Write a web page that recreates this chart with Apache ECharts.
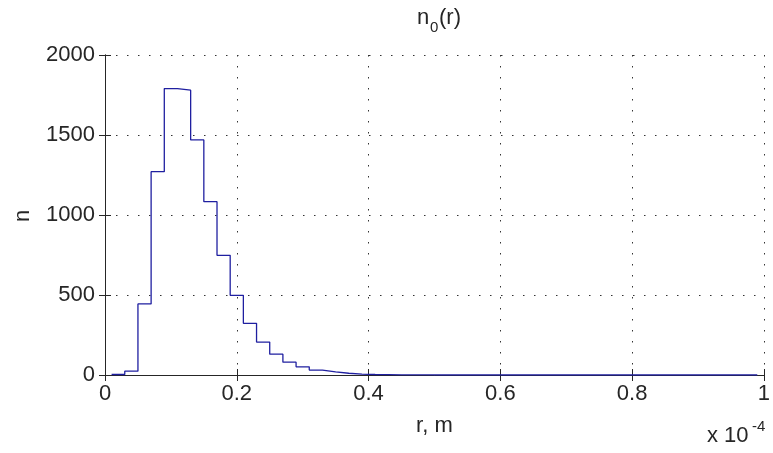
<!DOCTYPE html>
<html>
<head>
<meta charset="utf-8">
<script src="https://cdn.jsdelivr.net/npm/echarts@6/dist/echarts.min.js"></script>
<style>
html,body{margin:0;padding:0;background:#fff;}
#chart{width:773px;height:453px;}
</style>
</head>
<body>
<div id="chart"></div>
<script>
// Bin left edges (r, in units of 1e-4 m) and counts n
var binStart = [0.01,0.03,0.05,0.07,0.09,0.11,0.13,0.15,0.17,0.19,
                0.21,0.23,0.25,0.27,0.29,0.31,0.33,0.35,0.37,0.39,
                0.41,0.43,0.45,0.47,0.49,0.51,0.53,0.55,0.57,0.59,
                0.61,0.63,0.65,0.67,0.69,0.71,0.73,0.75,0.77,0.79,
                0.81,0.83,0.85,0.87,0.89,0.91,0.93,0.95,0.97];
var lastEdge = 0.99;
var counts = [3,24,444,1271,1790,1780,1469,1083,748,498,
              323,206,130,80,51,31,19,11,6,3,
              2,1,1,1,0,0,0,0,0,0,
              0,0,0,0,0,0,0,0,0,0,
              0,0,0,0,0,0,0,0,0];
var xTicks = [0,0.2,0.4,0.6,0.8,1];
var yTicks = [0,500,1000,1500,2000];

var data = binStart.map(function(x,i){return [x,counts[i]];});
data.push([lastEdge, counts[counts.length-1]]);

var FONT = 'Liberation Sans';
var TXT = '#262626';
var FS = 22;
var chart = echarts.init(document.getElementById('chart'));
var axisCommonX = {
  type:'value', min:xTicks[0], max:xTicks[xTicks.length-1], interval:0.2,
  axisLine:{show:true,lineStyle:{color:TXT,width:1}},
  axisTick:{show:true,inside:true,length:6,lineStyle:{color:TXT}}
};
var axisCommonY = {
  type:'value', min:yTicks[0], max:yTicks[yTicks.length-1], interval:500,
  axisLine:{show:true,lineStyle:{color:TXT,width:1}},
  axisTick:{show:true,inside:true,length:6,lineStyle:{color:TXT}}
};
var gridDots = {show:true,lineStyle:{color:'#333',type:[1.5,9.5],width:1}};
chart.setOption({
  animation:false,
  backgroundColor:'#fff',
  grid:{left:105,right:1,top:55,bottom:78,containLabel:false},
  xAxis:[
    Object.assign({}, axisCommonX, {
      position:'bottom',
      name:'r, m', nameLocation:'middle', nameGap:40,
      nameTextStyle:{fontFamily:FONT,fontSize:FS,color:TXT},
      axisLabel:{show:true,margin:8,fontFamily:FONT,fontSize:FS,color:TXT,
        formatter:function(v){return String(Math.round(v*10)/10);}},
      splitLine:gridDots
    }),
    Object.assign({}, axisCommonX, {
      position:'top', axisLabel:{show:false}, splitLine:{show:false}
    })
  ],
  yAxis:[
    Object.assign({}, axisCommonY, {
      position:'left',
      axisLabel:{show:true,margin:10,fontFamily:FONT,fontSize:FS,color:TXT,
        formatter:function(v){return String(v);}},
      splitLine:gridDots
    }),
    Object.assign({}, axisCommonY, {
      position:'right', axisLabel:{show:false}, splitLine:{show:false}
    })
  ],
  series:[{
    type:'line', step:'end', data:data, showSymbol:false, symbol:'none',
    lineStyle:{color:'#1f1fa0',width:1.3}, z:5
  }],
  graphic:[
    {type:'text', left:417, top:7, style:{text:'n',fontFamily:FONT,fontSize:FS,fill:TXT}},
    {type:'text', left:430, top:20, style:{text:'0',fontFamily:FONT,fontSize:15,fill:TXT}},
    {type:'text', left:439, top:7, style:{text:'(r)',fontFamily:FONT,fontSize:FS,fill:TXT}},
    {type:'text', x:12, y:222, rotation:Math.PI/2, style:{text:'n',fontFamily:FONT,fontSize:FS,fill:TXT}},
    {type:'text', left:707, top:425, style:{text:'x 10',fontFamily:FONT,fontSize:FS,fill:TXT}},
    {type:'text', left:752, top:419, style:{text:'-4',fontFamily:FONT,fontSize:15,fill:TXT}}
  ]
});
</script>
</body>
</html>
